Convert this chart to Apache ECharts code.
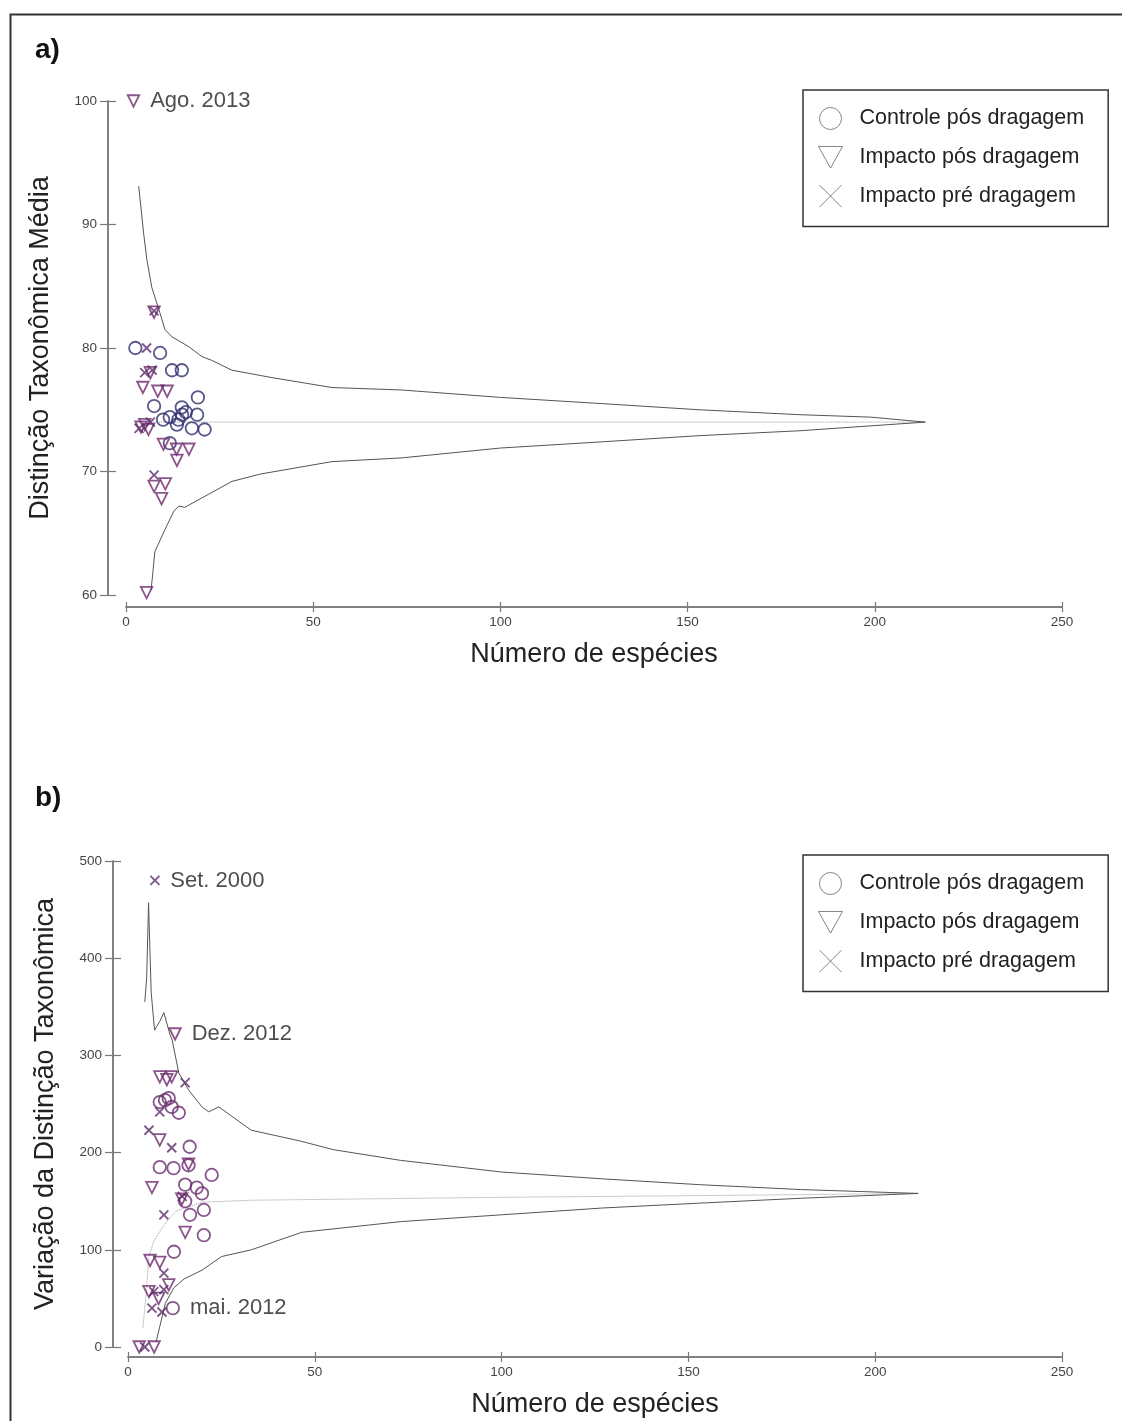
<!DOCTYPE html>
<html>
<head>
<meta charset="utf-8">
<script src="https://cdn.jsdelivr.net/npm/echarts@6/dist/echarts.min.js"></script>
<style>
  html, body { margin: 0; padding: 0; background: #fff; }
  #chart { width: 1122px; height: 1421px; }
</style>
</head>
<body>
<div id="chart"></div>
<script>
// ---- panel a: Distinção Taxonômica Média (species, value) ----
var controleA = [[2.5,80],[9.1,79.6],[12.3,78.2],[14.9,78.2],[19.2,76],[7.5,75.3],[14.9,75.2],
  [9.9,74.2],[11.7,74.4],[15,74.6],[19,74.6],[13.6,73.8],[17.6,73.5],[21,73.4],[16,74.8],[14,74.2],[11.7,72.3]];
var impactoPosA = [[2,100],[7.5,82.9],[6.5,78],[4.5,76.8],[8.5,76.5],[11,76.5],[4,73.6],[5,73.8],[6,73.4],
  [13.5,71.8],[16.8,71.8],[13.6,70.9],[7.5,68.8],[10.5,69.0],[9.5,67.8],[5.5,60.2],[10,72.2]];
var impactoPreA = [[7.5,83],[5.5,80],[5,78],[7,78.2],[3.5,73.5],[7.5,69.7],[6.5,74]];
var meanA = [[3,74],[213.5,74]];
var upperA = [[3.4,93.1],[4.7,89.3],[5.6,87.1],[6.9,84.9],[9.1,82.8],[10.4,81.5],[12.3,80.9],[16.8,80.1],
  [20.3,79.3],[22.9,79.0],[28.3,78.2],[39,77.6],[55,76.8],[73.6,76.6],[100,76.0],[127,75.5],[153,75.0],
  [180,74.6],[199,74.4],[213.5,74.0]];
var lowerA = [[6.7,60.4],[7.2,61.9],[7.7,63.5],[10.4,65.3],[12.8,66.8],[14.1,67.2],[15.7,67.1],[28.3,69.2],
  [36,69.8],[55,70.8],[73.6,71.1],[100,71.9],[127,72.4],[153,72.9],[180,73.3],[213.5,74.0]];

// ---- panel b: Variação da Distinção Taxonômica ----
var controleB = [[8.5,252],[9.9,254],[10.9,256],[11.7,247],[13.6,241],[16.5,206],[8.5,185],[12.2,184],
  [16.2,187],[22.4,177],[15.3,167],[18.4,164],[19.8,158],[20.3,141],[16.6,136],[15.3,150],[20.3,115],
  [12.3,98],[12,40]];
var impactoPosB = [[12.6,322],[8.5,278],[10.4,275],[11.7,278],[8.5,213],[16.2,188],[6.4,164],[14.4,152],
  [15.3,118],[5.9,89],[8.5,87],[5.6,57],[10.9,64],[8.2,50],[3,0],[7,0]];
var impactoPreB = [[7.2,480],[15.3,272],[8.5,242],[5.6,223],[11.7,205],[14.5,155],[9.6,136],[9.6,76],
  [6.9,57],[9.6,59],[6.4,40],[9.1,36],[4.5,0]];
var meanB = [[4,20],[5,60],[5.5,92],[7,110],[10.5,130],[13,140],[20,149],[33,151],[100,154],[160,156],[211.5,158]];
var upperB = [[4.5,355],[5.0,380],[5.5,457],[6.2,365],[7.1,326],[8.5,335],[9.6,344],[11.2,322],[11.8,316],
  [13.6,282],[16.3,264],[19.8,247],[21.6,242],[24.3,247],[33,223],[46,212],[55,203],[73,192],[100,180],
  [127,173],[153,167],[180,162],[211.5,158]];
var lowerB = [[7.5,5],[8.5,21],[10,45],[12.3,61],[15,70],[19.8,79],[25,93],[33,100],[46.5,118],[73,129],
  [100,136],[127,143],[153,148],[180,153],[211.5,158]];

// annotated samples: [panel, series, index, text]
var notes = [['a','pos',0,'Ago. 2013'],['b','pre',0,'Set. 2000'],['b','pos',0,'Dez. 2012'],['b','ctl',18,'mai. 2012']];

var FONT = 'Liberation Sans, Arial, sans-serif';
var AX = '#7a7a7a';
var SYM_TRI = 'path://M0,0L10,0L5,9Z';
var SYM_X = 'path://M0,0L10,10M10,0L0,10';
var names = ['Controle pós dragagem','Impacto pós dragagem','Impacto pré dragagem'];

function withNotes(panel, key, arr) {
  return arr.map(function (p, i) {
    var n = notes.filter(function (d) { return d[0] === panel && d[1] === key && d[2] === i; })[0];
    if (!n) return p;
    return { value: p, label: { show: true, position: 'right', distance: 10, formatter: n[3],
      fontSize: 22, color: '#222', fontFamily: FONT } };
  });
}

function xAx(grid, inner) {
  return {
    gridIndex: grid, type: 'value', position: 'bottom', min: 0, max: 250, interval: 50,
    offset: grid === 0 ? 12 : 10,
    axisLine: { show: true, onZero: false, lineStyle: { color: AX, width: 1.5 } },
    axisTick: { show: true, inside: inner, length: 5, lineStyle: { color: AX, width: 1.2 } },
    axisLabel: { show: !inner, fontSize: 13.5, color: '#444', margin: 8, fontFamily: FONT },
    splitLine: { show: false },
    name: inner ? '' : 'Número de espécies', nameLocation: 'middle', nameGap: 34,
    nameTextStyle: { fontSize: 27, color: '#222', fontFamily: FONT }
  };
}
function yAx(grid, inner, min, max, step, title, gap) {
  return {
    gridIndex: grid, type: 'value', position: 'left', min: min, max: max, interval: step,
    offset: grid === 0 ? 18 : 15,
    axisLine: { show: true, onZero: false, lineStyle: { color: AX, width: 1.5 } },
    axisTick: { show: true, inside: inner, length: 8, lineStyle: { color: AX, width: 1.2 } },
    axisLabel: { show: !inner, fontSize: 13.5, color: '#444', margin: 11, fontFamily: FONT },
    splitLine: { show: false },
    name: inner ? '' : title, nameLocation: 'middle', nameGap: gap,
    nameTextStyle: { fontSize: 27, color: '#222', fontFamily: FONT }
  };
}
function scat(name, sym, size, color, data, xi) {
  return { type: 'scatter', name: name, xAxisIndex: xi, yAxisIndex: xi, symbol: sym, symbolSize: size,
    itemStyle: { color: 'rgba(0,0,0,0)', borderColor: color, borderWidth: 1.8 },
    data: data, silent: true };
}
function line(data, xi, dotted) {
  return { type: 'line', xAxisIndex: xi, yAxisIndex: xi, data: data, showSymbol: false, silent: true,
    lineStyle: { color: dotted ? '#9a9a9a' : '#555', width: 1, type: dotted ? 'dotted' : 'solid' }, z: 1 };
}
function legendAt(top) {
  return {
    left: 803, top: top, orient: 'vertical', borderColor: '#333', borderWidth: 1.5,
    padding: [17, 24, 19, 15], itemGap: 16, itemWidth: 24, itemHeight: 22,
    textStyle: { fontSize: 21.5, color: '#222', fontFamily: FONT, padding: [0, 0, 0, 12] },
    data: [
      { name: names[0], icon: 'circle', itemStyle: { color: 'rgba(0,0,0,0)', borderColor: '#666', borderWidth: 1 } },
      { name: names[1], icon: SYM_TRI, itemStyle: { color: 'rgba(0,0,0,0)', borderColor: '#666', borderWidth: 1 } },
      { name: names[2], icon: SYM_X, itemStyle: { color: 'rgba(0,0,0,0)', borderColor: '#666', borderWidth: 1 } }
    ]
  };
}

var chart = echarts.init(document.getElementById('chart'), null, { renderer: 'canvas' });
var option = {
  backgroundColor: '#fff',
  animation: false,
  textStyle: { fontFamily: FONT },
  graphic: [
    { type: 'rect', left: 8, top: 12, shape: { width: 1200, height: 1500 },
      style: { fill: 'none', stroke: '#333', lineWidth: 2 } },
    { type: 'text', left: 35, top: 36, style: { text: 'a)', fontSize: 28, fontWeight: 'bold', fill: '#111', fontFamily: FONT } },
    { type: 'text', left: 35, top: 784, style: { text: 'b)', fontSize: 28, fontWeight: 'bold', fill: '#111', fontFamily: FONT } }
  ],
  legend: [legendAt(90), legendAt(855)],
  grid: [
    { left: 126, right: 60, top: 101, bottom: 826, outerBoundsMode: 'none' },
    { left: 128, right: 60, top: 861, bottom: 74, outerBoundsMode: 'none' }
  ],
  xAxis: [xAx(0, false), xAx(1, false), xAx(0, true), xAx(1, true)],
  yAxis: [
    yAx(0, false, 60, 100, 10, 'Distinção Taxonômica Média', 54),
    yAx(1, false, 0, 500, 100, 'Variação da Distinção Taxonômica', 54),
    yAx(0, true, 60, 100, 10, '', 0),
    yAx(1, true, 0, 500, 100, '', 0)
  ],
  series: [
    line(meanA, 0, true), line(upperA, 0, false), line(lowerA, 0, false),
    line(meanB, 1, true), line(upperB, 1, false), line(lowerB, 1, false),
    scat(names[0], 'circle', 12.5, '#30306e', withNotes('a', 'ctl', controleA), 0),
    scat(names[1], SYM_TRI, 11.5, '#6e2b6e', withNotes('a', 'pos', impactoPosA), 0),
    scat(names[2], SYM_X, 9, '#5a2a6a', withNotes('a', 'pre', impactoPreA), 0),
    scat(names[0], 'circle', 12.5, '#6a2d6e', withNotes('b', 'ctl', controleB), 1),
    scat(names[1], SYM_TRI, 11.5, '#6e2b6e', withNotes('b', 'pos', impactoPosB), 1),
    scat(names[2], SYM_X, 9, '#5a2a6a', withNotes('b', 'pre', impactoPreB), 1)
  ]
};
chart.setOption(option);
</script>
</body>
</html>
